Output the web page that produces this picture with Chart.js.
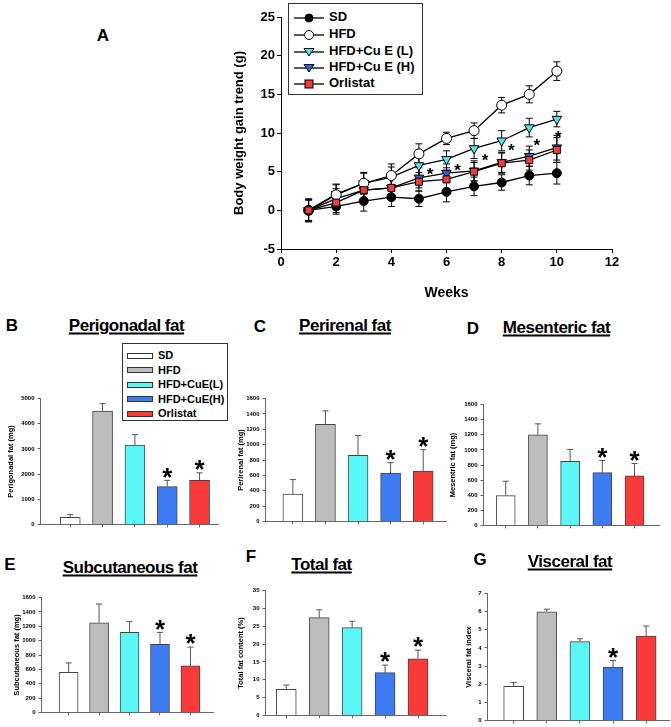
<!DOCTYPE html>
<html>
<head>
<meta charset="utf-8">
<script src="https://cdn.jsdelivr.net/npm/chart.js@4.4.0/dist/chart.umd.min.js"></script>
<style>
body{margin:0;background:#fff;font-family:"Liberation Sans",Arial,sans-serif;font-weight:bold;color:#000}
#page{position:relative;width:671px;height:727px;overflow:hidden}
canvas{position:absolute}
.lbl{position:absolute;transform:translate(-50%,-50%);white-space:nowrap;line-height:1}
.ttl{font-size:17px;letter-spacing:-0.5px;text-decoration:underline;text-decoration-thickness:2px;text-underline-offset:2px}
.let{font-size:17px}
.box{position:absolute;border:1px solid #333;background:#fff;box-sizing:border-box}
.row{position:absolute;white-space:nowrap;line-height:1;transform:translateY(-50%)}
</style>
</head>
<body>
<div id="page"></div>
<script>
'use strict';

let FF='"Liberation Sans", Arial, sans-serif';

// groups for the bar panels
let groups=['SD','HFD','HFD+CuE(L)','HFD+CuE(H)','Orlistat'];
let barColors=['#ffffff','#bdbdbd','#5cf6f6','#3d7bf2','#f83a3a'];
let xPos=[1,2,3,4,5];

// panel A, weight gain (g) per week
let lineNames=['SD','HFD','HFD+Cu E (L)','HFD+Cu E (H)','Orlistat'];
let weeks=[1,2,3,4,5,6,7,8,9,10];
let sdGain=[0,0.5,1.2,1.7,1.5,2.4,3.1,3.6,4.5,4.8];
let sdErr=[1.4,1.0,1.3,1.2,1.0,1.3,1.2,1.0,1.2,1.4];
let hfdGain=[0,2.0,3.5,4.5,7.3,9.3,10.3,13.6,15.0,18.0];
let hfdErr=[1.5,1.4,1.4,1.5,1.3,0.8,1.0,1.0,1.1,1.2];
let lowGain=[0,2.1,3.5,4.3,5.8,6.6,8.0,9.0,10.7,11.8];
let lowErr=[1.3,1.2,1.3,1.3,1.3,1.1,1.3,1.3,1.2,1.0];
let highGain=[0,1.5,2.6,2.9,4.2,4.8,5.1,6.2,7.0,8.1];
let highErr=[1.4,1.3,1.3,1.2,1.3,1.2,1.3,1.3,1.3,1.6];
let orlGain=[0,1.0,2.6,2.9,3.7,4.0,5.0,6.1,6.5,7.8];
let orlErr=[1.4,1.3,1.3,1.2,1.2,1.2,1.2,1.3,1.3,1.6];
let starWeeks=[5.4,6.4,7.4,8.35,9.27,10.05];
let starVals=[5.0,5.6,6.8,8.1,8.8,9.8];

// bar panels
let periMean=[280,4500,3150,1500,1750];
let periErr=[110,300,420,250,300];
let periSig=[0,0,0,1,1];
let reniMean=[355,1265,860,630,655];
let reniErr=[190,175,260,135,280];
let reniSig=[0,0,0,1,1];
let mesMean=[395,1200,850,700,655];
let mesErr=[190,145,155,160,165];
let mesSig=[0,0,0,1,1];
let subMean=[560,1250,1115,950,650];
let subErr=[130,260,150,165,260];
let subSig=[0,0,0,1,1];
let totMean=[7.3,27.4,24.6,12.0,15.9];
let totErr=[1.2,2.2,1.8,2.1,2.4];
let totSig=[0,0,0,1,1];
let visMean=[1.88,6.0,4.35,2.94,4.66];
let visErr=[0.22,0.14,0.16,0.37,0.55];
let visSig=[0,0,0,1,0];

let page=document.getElementById('page');

function addText(txt,cx,cy,cls){
    let d=document.createElement('div');
    d.className='lbl '+cls;
    d.textContent=txt;
    d.style.left=cx+'px';
    d.style.top=cy+'px';
    page.appendChild(d);
}

function makeCanvas(left,top,w,h){
    let cv=document.createElement('canvas');
    cv.width=Math.round(w);
    cv.height=Math.round(h);
    cv.style.left=Math.round(left)+'px';
    cv.style.top=Math.round(top)+'px';
    page.appendChild(cv);
    return cv;
}

// error bars + asterisks
let errPlugin={
    id:'errbars',
    beforeDatasetsDraw(chart){
        if(chart.config.type==='line') drawErr(chart);
    },
    afterDatasetsDraw(chart){
        if(chart.config.type!=='line') drawErr(chart);
        let ctx=chart.ctx, ys=chart.scales.y, xs=chart.scales.x;
        ctx.save();
        ctx.fillStyle='#000';
        ctx.textAlign='center';
        ctx.textBaseline='middle';
        chart.data.datasets.forEach((ds,di)=>{
            if(!ds.sig) return;
            let meta=chart.getDatasetMeta(di);
            ctx.font='bold 26px '+FF;
            meta.data.forEach((el,i)=>{
                if(!ds.sig[i]) return;
                let y=ys.getPixelForValue(ds.data[i].y+ds.err[i]);
                ctx.fillText('*',el.x,y-2);
            });
        });
        let st=chart.options.plugins.stars;
        if(st && st.x){
            ctx.font='bold 17px '+FF;
            st.x.forEach((w,i)=>{
                ctx.fillText('*',xs.getPixelForValue(w),ys.getPixelForValue(starVals[i])+4);
            });
        }
        ctx.restore();
    }
};

function drawErr(chart){
    let ctx=chart.ctx, ys=chart.scales.y;
    chart.data.datasets.forEach((ds,di)=>{
        if(!ds.err) return;
        let meta=chart.getDatasetMeta(di);
        ctx.save();
        ctx.strokeStyle=ds.errColor||'#000';
        ctx.lineWidth=1;
        meta.data.forEach((el,i)=>{
            let v=ds.data[i].y, e=ds.err[i];
            let top=ys.getPixelForValue(v+e);
            let bot=ds.both?ys.getPixelForValue(v-e):el.y;
            ctx.beginPath();
            ctx.moveTo(el.x,bot);ctx.lineTo(el.x,top);
            ctx.moveTo(el.x-ds.cap,top);ctx.lineTo(el.x+ds.cap,top);
            if(ds.both){ctx.moveTo(el.x-ds.cap,bot);ctx.lineTo(el.x+ds.cap,bot);}
            ctx.stroke();
        });
        ctx.restore();
    });
}

// ---------- panel A ----------
let lineSets=[
    {name:lineNames[0],y:sdGain,e:sdErr,style:'circle',fill:'#000000',rot:0,r:4.5,order:1},
    {name:lineNames[1],y:hfdGain,e:hfdErr,style:'circle',fill:'#ffffff',rot:0,r:5,order:2},
    {name:lineNames[2],y:lowGain,e:lowErr,style:'triangle',fill:'#4fe6ee',rot:180,r:5.5,order:3},
    {name:lineNames[3],y:highGain,e:highErr,style:'triangle',fill:'#2a62d8',rot:180,r:5.5,order:4},
    {name:lineNames[4],y:orlGain,e:orlErr,style:'rect',fill:'#f23c3c',rot:0,r:5,order:0}
];

(function(){
    let L=281,R=612,T=17,B=249,yW=49,xH=53;
    let cv=makeCanvas(L-yW,T-10,R+12-(L-yW),B+xH-(T-10));
    new Chart(cv,{
        type:'line',
        data:{datasets:lineSets.map(s=>({
            label:s.name,
            data:weeks.map((w,i)=>({x:w,y:s.y[i]})),
            borderColor:'#000',borderWidth:1.3,
            pointStyle:s.style,pointRotation:s.rot,pointRadius:s.r,
            pointBackgroundColor:s.fill,pointBorderColor:'#000',pointBorderWidth:1,
            err:s.e,both:true,cap:3.5,order:s.order,tension:0
        }))},
        options:{
            responsive:false,animation:false,
            layout:{padding:{top:10,right:12,left:0,bottom:0}},
            plugins:{legend:{display:false},tooltip:{enabled:false},stars:{x:starWeeks}},
            scales:{
                x:{type:'linear',min:0,max:12,
                    ticks:{stepSize:2,color:'#000',font:{size:13,weight:'bold',family:FF},padding:2},
                    grid:{drawOnChartArea:false,tickLength:4,color:'#000'},border:{color:'#000'},
                    title:{display:true,text:'Weeks',color:'#000',font:{size:14,weight:'bold',family:FF},padding:0},
                    afterFit:s=>{s.height=xH;}},
                y:{min:-5,max:25,
                    ticks:{stepSize:5,color:'#000',font:{size:13,weight:'bold',family:FF},padding:2},
                    grid:{drawOnChartArea:false,tickLength:4,color:'#000'},border:{color:'#000'},
                    title:{display:true,text:'Body weight gain trend (g)',color:'#000',font:{size:13,weight:'bold',family:FF},padding:0},
                    afterFit:s=>{s.width=yW;}}
            }
        },
        plugins:[errPlugin]
    });
})();

// legend A
(function(){
    let box=document.createElement('div');
    box.className='box';
    box.style.cssText='left:288px;top:3px;width:135px;height:92px;';
    page.appendChild(box);
    let rows=[16,33,50,66,82];
    lineSets.forEach((s,i)=>{
        let mk;
        if(s.style==='circle') mk=`<circle cx="15" cy="6" r="${s.r-0.5}" fill="${s.fill}" stroke="#000"/>`;
        else if(s.style==='triangle') mk=`<polygon points="10,2.5 20,2.5 15,10" fill="${s.fill}" stroke="#000"/>`;
        else mk=`<rect x="11" y="2" width="8" height="8" fill="${s.fill}" stroke="#000"/>`;
        let sv=document.createElement('div');
        sv.style.cssText=`position:absolute;left:294px;top:${rows[i]-6}px;width:30px;height:12px;`;
        sv.innerHTML=`<svg width="30" height="12"><line x1="0" y1="6" x2="30" y2="6" stroke="#000" stroke-width="1.3"/>${mk}</svg>`;
        page.appendChild(sv);
        let t=document.createElement('div');
        t.className='row';
        t.style.cssText=`left:329px;top:${rows[i]}px;font-size:13px;`;
        t.textContent=s.name;
        page.appendChild(t);
    });
})();

// ---------- bar panels ----------
function barPanel(p){
    let left=p.L-p.yW, top=p.T-6;
    let cv=makeCanvas(left,top,p.R+4-left,p.B0+6-top);
    new Chart(cv,{
        type:'bar',
        data:{datasets:[{
            data:xPos.map((x,i)=>({x:x,y:p.mean[i]})),
            backgroundColor:barColors,borderColor:'#444',borderWidth:1,
            barThickness:p.bw,err:p.err,sig:p.sig,cap:3,errColor:'#555'
        }]},
        options:{
            responsive:false,animation:false,
            layout:{padding:{top:6,right:4,left:0,bottom:0}},
            plugins:{legend:{display:false},tooltip:{enabled:false}},
            scales:{
                x:{type:'linear',min:p.xmin,max:p.xmax,offset:false,
                    afterBuildTicks:s=>{s.ticks=xPos.map(v=>({value:v}));},
                    ticks:{display:false},
                    grid:{offset:false,drawOnChartArea:false,tickLength:3,color:'#666'},border:{color:'#666'},
                    afterFit:s=>{s.height=6;}},
                y:{min:0,max:p.max,
                    ticks:{stepSize:p.step,color:'#000',font:{size:6,weight:'bold',family:FF},padding:3,callback:v=>String(v)},
                    grid:{drawOnChartArea:false,tickLength:3,color:'#666'},border:{color:'#666'},
                    title:{display:true,text:p.yTitle,color:'#000',font:{size:7.5,weight:'bold',family:FF},padding:0},
                    afterFit:s=>{s.width=p.yW;}}
            }
        },
        plugins:[errPlugin]
    });
}

let tx=4.5;
barPanel({L:40,R:217,T:398,B0:525,yW:40-10+tx,xmin:0.08,xmax:5.57,max:5000,step:1000,mean:periMean,err:periErr,sig:periSig,bw:20,yTitle:'Perigonadal fat (mg)'});
barPanel({L:265,R:445,T:398,B0:522,yW:265-240+tx,xmin:0.16,xmax:5.7,max:1600,step:200,mean:reniMean,err:reniErr,sig:reniSig,bw:20,yTitle:'Perirenal fat (mg)'});
barPanel({L:483,R:658,T:404,B0:526,yW:483-452+tx,xmin:0.31,xmax:5.76,max:1600,step:200,mean:mesMean,err:mesErr,sig:mesSig,bw:19,yTitle:'Mesentric fat (mg)'});
barPanel({L:41,R:212,T:597,B0:713,yW:41-16+tx,xmin:0.11,xmax:5.74,max:1600,step:200,mean:subMean,err:subErr,sig:subSig,bw:19,yTitle:'Subcutaneous fat (mg)'});
barPanel({L:265,R:445,T:590,B0:716,yW:265-240+tx,xmin:0.37,xmax:5.85,max:35,step:5,mean:totMean,err:totErr,sig:totSig,bw:20,yTitle:'Total fat content (%)'});
barPanel({L:487,R:668,T:593,B0:721,yW:487-468+tx,xmin:0.21,xmax:5.69,max:7,step:1,mean:visMean,err:visErr,sig:visSig,bw:20,yTitle:'Visceral fat index'});

// legend B
(function(){
    let box=document.createElement('div');
    box.className='box';
    box.style.cssText='left:122px;top:343px;width:106px;height:78px;';
    page.appendChild(box);
    let rows=[355,369.5,384,398.5,413];
    groups.forEach((g,i)=>{
        let sw=document.createElement('div');
        sw.style.cssText=`position:absolute;left:127px;top:${rows[i]-2.5}px;width:24px;height:4px;border:1px solid #333;background:${barColors[i]};`;
        page.appendChild(sw);
        let t=document.createElement('div');
        t.className='row';
        t.style.cssText=`left:158px;top:${rows[i]}px;font-size:11px;`;
        t.textContent=g;
        page.appendChild(t);
    });
})();

// panel letters and titles
addText('A',103,35,'let');
addText('B',12,325,'let');
addText('Perigonadal fat',126.5,325,'ttl');
addText('C',260,326,'let');
addText('Perirenal fat',345,325,'ttl');
addText('D',473,328,'let');
addText('Mesenteric fat',556.5,327,'ttl');
addText('E',10,564,'let');
addText('Subcutaneous fat',130,567,'ttl');
addText('F',251,556,'let');
addText('Total fat',321.5,564,'ttl');
addText('G',480,559,'let');
addText('Visceral fat',570,561,'ttl');
</script>
</body>
</html>
